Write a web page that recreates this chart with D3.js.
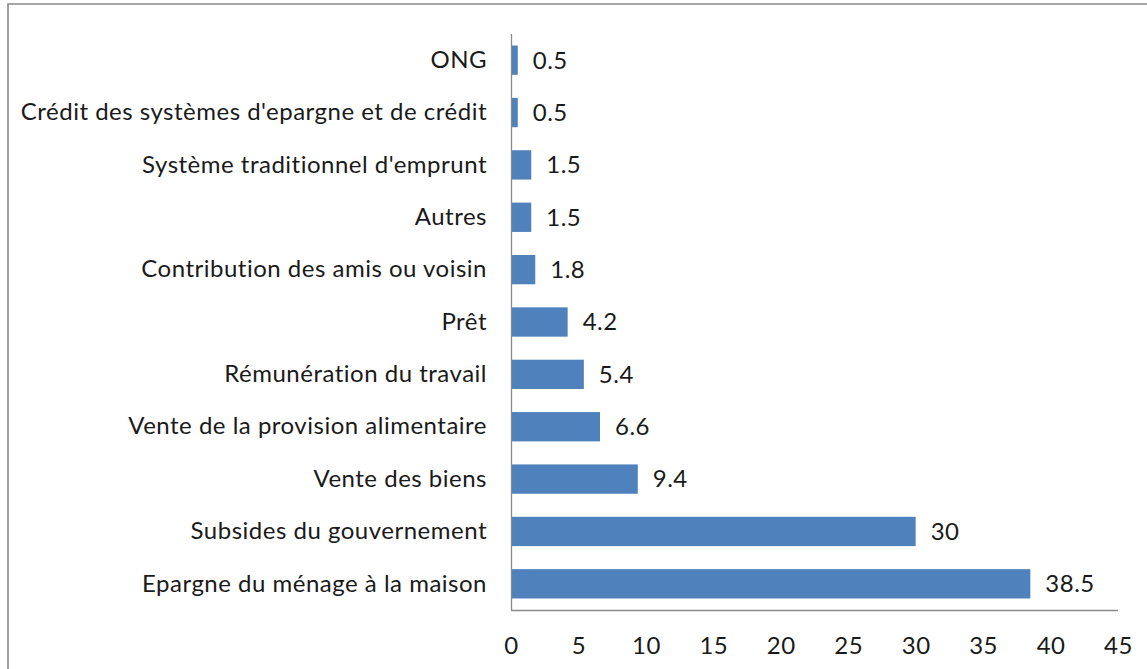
<!DOCTYPE html>
<html>
<head>
<meta charset="utf-8">
<script src="https://cdn.jsdelivr.net/npm/d3@7"></script>
<style>
	body { margin: 0; background: #fff; overflow: hidden; }
	text { font-family: Lato, "Open Sans", sans-serif; fill: #1a1a1a; }
</style>
</head>
<body>
<div id="chart"></div>
<script>
	// categories from top to bottom
	const categories = [
		"ONG",
		"Crédit des systèmes d'epargne et de crédit",
		"Système traditionnel d'emprunt",
		"Autres",
		"Contribution des amis ou voisin",
		"Prêt",
		"Rémunération du travail",
		"Vente de la provision alimentaire",
		"Vente des biens",
		"Subsides du gouvernement",
		"Epargne du ménage à la maison"
	];
	const values = [0.5, 0.5, 1.5, 1.5, 1.8, 4.2, 5.4, 6.6, 9.4, 30, 38.5];
	const xTicks = [0, 5, 10, 15, 20, 25, 30, 35, 40, 45];

	const width = 1147, height = 669;
	const margin = { top: 34, right: 29, bottom: 59, left: 511 };
	const innerWidth = width - margin.left - margin.right;
	const innerHeight = height - margin.top - margin.bottom;
	const fontFamily = "Lato, 'Open Sans', sans-serif";
	const fontSize = 24;
	const spacing = "0.5px";

	const svg = d3.select("#chart").append("svg")
		.attr("width", width)
		.attr("height", height)
		.style("display", "block");

	// frame of the embedded chart, only the top and left edges are in view
	svg.append("path")
		.attr("d", `M8,${height}V4H${width}`)
		.attr("fill", "none")
		.attr("stroke", "#8a8a8a")
		.attr("stroke-width", 1.6);

	const g = svg.append("g")
		.attr("transform", `translate(${margin.left},${margin.top})`);

	const xScale = d3.scaleLinear()
		.domain([0, 45])
		.range([0, innerWidth]);

	const yScale = d3.scaleBand()
		.domain(categories)
		.range([0, innerHeight])
		.paddingInner(0.44)
		.paddingOuter(0.22);

	// bars
	g.selectAll("rect.bar").data(values)
		.enter().append("rect")
		.attr("class", "bar")
		.attr("x", xScale(0))
		.attr("y", (d, i) => yScale(categories[i]))
		.attr("width", d => xScale(d) - xScale(0))
		.attr("height", yScale.bandwidth())
		.attr("fill", "#4f81bd");

	// value labels
	g.selectAll("text.val").data(values)
		.enter().append("text")
		.attr("class", "val")
		.attr("x", d => xScale(d) + 15)
		.attr("y", (d, i) => yScale(categories[i]) + yScale.bandwidth() / 2)
		.attr("dy", "0.35em")
		.attr("font-size", fontSize)
		.attr("font-family", fontFamily)
		.attr("letter-spacing", spacing)
		.text(d => d);

	// y axis
	const yAxisG = g.append("g")
		.call(d3.axisLeft(yScale).tickSize(0).tickPadding(24))
		.attr("font-size", fontSize)
		.attr("font-family", fontFamily);
	yAxisG.select(".domain").attr("stroke", "#8a8a8a").attr("stroke-width", 1.3)
		.attr("d", `M0.5,0V${innerHeight}`);
	yAxisG.selectAll("text")
		.attr("letter-spacing", spacing)
		.attr("fill", "#1a1a1a");

	// x axis
	const xAxisG = g.append("g")
		.attr("transform", `translate(0,${innerHeight})`)
		.call(d3.axisBottom(xScale).tickValues(xTicks).tickSize(0).tickPadding(27))
		.attr("font-size", fontSize)
		.attr("font-family", fontFamily);
	xAxisG.select(".domain").attr("stroke", "#8a8a8a").attr("stroke-width", 1.3)
		.attr("d", `M0,0.5H${innerWidth}`);
	xAxisG.selectAll("text")
		.attr("letter-spacing", spacing)
		.attr("fill", "#1a1a1a");
</script>
</body>
</html>
